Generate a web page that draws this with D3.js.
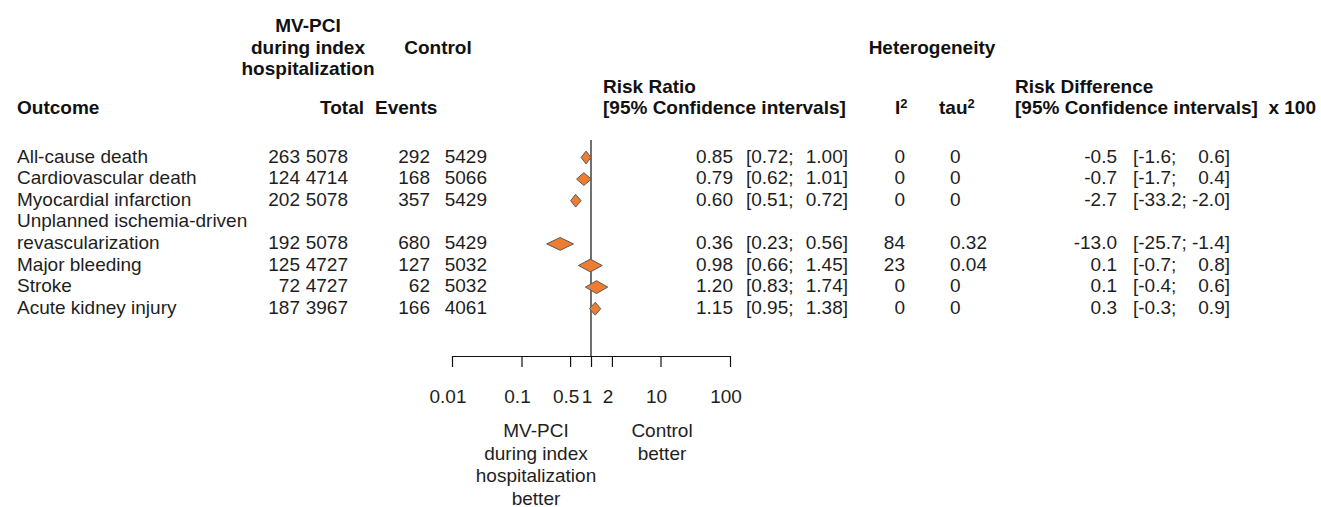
<!DOCTYPE html>
<html>
<head>
<meta charset="utf-8">
<script src="https://cdn.jsdelivr.net/npm/d3@7"></script>
<style>
  html, body { margin: 0; padding: 0; background: #fff; }
  svg text { font-family: "Liberation Sans", Arial, sans-serif; font-size: 19px; fill: #1e1e1e; white-space: pre; }
  svg text.bold { font-weight: bold; fill: #111; }
</style>
</head>
<body>
<svg id="chart" width="1321" height="507"></svg>
<script>
// Forest plot: MV-PCI during index hospitalization vs Control
const outcomes = [
  ["All-cause death"],
  ["Cardiovascular death"],
  ["Myocardial infarction"],
  ["Unplanned ischemia-driven", "revascularization"],
  ["Major bleeding"],
  ["Stroke"],
  ["Acute kidney injury"]
];
const eventsE = [263, 124, 202, 192, 125, 72, 187];
const totalE  = [5078, 4714, 5078, 5078, 4727, 4727, 3967];
const eventsC = [292, 168, 357, 680, 127, 62, 166];
const totalC  = [5429, 5066, 5429, 5429, 5032, 5032, 4061];
const rr      = [0.85, 0.79, 0.60, 0.36, 0.98, 1.20, 1.15];
const rrLower = [0.72, 0.62, 0.51, 0.23, 0.66, 0.83, 0.95];
const rrUpper = [1.00, 1.01, 0.72, 0.56, 1.45, 1.74, 1.38];
const i2      = ["0", "0", "0", "84", "23", "0", "0"];
const tau2    = ["0", "0", "0", "0.32", "0.04", "0", "0"];
const rd      = [-0.5, -0.7, -2.7, -13.0, 0.1, 0.1, 0.3];
const rdLower = [-1.6, -1.7, -33.2, -25.7, -0.7, -0.4, -0.3];
const rdUpper = [0.6, 0.4, -2.0, -1.4, 0.8, 0.6, 0.9];
const axisTicks = [0.01, 0.1, 0.5, 1, 2, 10, 100];
const axisTickLabels = ["0.01", "0.1", "0.5", "1", "2", "10", "100"];

const svg = d3.select("#chart");

// Row slots: every outcome takes one line, the two-line label takes two
const slots = [];
let s = 0;
outcomes.forEach(lines => { s += lines.length - 1; slots.push(s); s += 1; });
const y = d3.scaleLinear().domain([0, 7]).range([157.5, 157.5 + 7 * 21.6]);
const x = d3.scaleLog().domain([0.01, 100]).range([452, 730]);

const f2 = d3.format(".2f");
const f1 = v => d3.format(".1f")(v).replace("−", "-");

function txt(xp, yp, str, anchor, bold) {
  return svg.append("text")
    .attr("x", xp).attr("y", yp)
    .attr("text-anchor", anchor || "start")
    .attr("class", bold ? "bold" : null)
    .text(str);
}

// Header label with a raised "2"
function supTxt(xp, yp, base) {
  const t = svg.append("text").attr("x", xp).attr("y", yp).attr("class", "bold");
  t.append("tspan").text(base);
  t.append("tspan").attr("dy", -6).style("font-size", "13px").text("2");
  return t;
}

// Column headers
txt(308, 32, "MV-PCI", "middle", true);
txt(308, 53.5, "during index", "middle", true);
txt(308, 75, "hospitalization", "middle", true);
txt(438, 53.5, "Control", "middle", true);
txt(932, 53.5, "Heterogeneity", "middle", true);
txt(17, 114, "Outcome", "start", true);
txt(320, 114, "Total", "start", true);
txt(375, 114, "Events", "start", true);
txt(603, 92.5, "Risk Ratio", "start", true);
txt(603, 114, "[95% Confidence intervals]", "start", true);
supTxt(895, 114, "I");
supTxt(939, 114, "tau");
txt(1015, 92.5, "Risk Difference", "start", true);
txt(1015, 114, "[95% Confidence intervals]  x 100", "start", true);

// Reference line at RR = 1
svg.append("line")
  .attr("x1", x(1)).attr("x2", x(1))
  .attr("y1", 140).attr("y2", 356)
  .attr("stroke", "#111").attr("stroke-width", 1.2);

// Rows
outcomes.forEach((lines, i) => {
  const yc = y(slots[i]);
  const base = yc + 5;
  lines.forEach((ln, k) => txt(17, base - (lines.length - 1 - k) * 21.6, ln));
  txt(300, base, String(eventsE[i]), "end");
  txt(348, base, String(totalE[i]), "end");
  txt(430, base, String(eventsC[i]), "end");
  txt(487, base, String(totalC[i]), "end");
  txt(733, base, f2(rr[i]), "end");
  txt(746, base, "[" + f2(rrLower[i]) + ";", "start");
  txt(848, base, f2(rrUpper[i]) + "]", "end");
  txt(905, base, i2[i], "end");
  txt(950, base, tau2[i], "start");
  txt(1117, base, f1(rd[i]), "end");
  txt(1133, base, "[" + f1(rdLower[i]) + ";", "start");
  txt(1230, base, f1(rdUpper[i]) + "]", "end");

  // Diamond spanning the confidence interval, apex at the estimate
  const h = 6.4;
  const pts = [
    [x(rrLower[i]), yc], [x(rr[i]), yc - h],
    [x(rrUpper[i]), yc], [x(rr[i]), yc + h]
  ];
  svg.append("polygon")
    .attr("points", pts.map(p => p.join(",")).join(" "))
    .attr("fill", "#ED7D31")
    .attr("stroke", "#5a5a5a")
    .attr("stroke-width", 1);
});

// Log axis
const axis = d3.axisBottom(x)
  .tickValues(axisTicks)
  .tickFormat((d, i) => axisTickLabels[i])
  .tickSize(11)
  .tickSizeOuter(0)
  .tickPadding(23);
const gAxis = svg.append("g").attr("transform", "translate(0,356)").call(axis);
gAxis.select(".domain").attr("stroke", "#111").attr("stroke-width", 1.2);
gAxis.selectAll(".tick line").attr("stroke", "#111").attr("stroke-width", 1.2);
gAxis.selectAll(".tick text")
  .attr("font-family", null).attr("font-size", null)
  .attr("dx", -4.5)
  .style("fill", "#1e1e1e");

// Direction labels under the axis
const leftLab = ["MV-PCI", "during index", "hospitalization", "better"];
leftLab.forEach((t, k) => txt(536, 437 + k * 22.5, t, "middle"));
const rightLab = ["Control", "better"];
rightLab.forEach((t, k) => txt(662, 437 + k * 22.5, t, "middle"));
</script>
</body>
</html>
